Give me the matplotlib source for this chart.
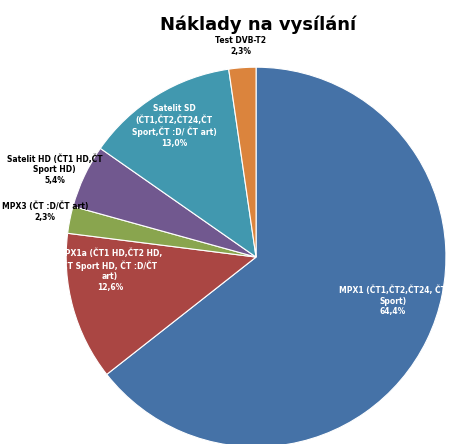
import matplotlib
matplotlib.use("Agg")
import matplotlib.pyplot as plt

labels = ["MPX1 (ČT1,ČT2,ČT24, ČT\nSport)", "MPX1a (ČT1 HD,ČT2 HD,\nČT Sport HD, ČT :D/ČT\nart)",
          "MPX3 (ČT :D/ČT art)", "Satelit HD (ČT1 HD,ČT\nSport HD)",
          "Satelit SD\n(ČT1,ČT2,ČT24,ČT\nSport,ČT :D/ ČT art)", "Test DVB-T2"]
values = [64.4, 12.6, 2.3, 5.4, 13.0, 2.3]
colors = ["#4572A7", "#AA4643", "#89A54E", "#71588F", "#4198AF", "#DB843D"]

label_pos = [(0.72, -0.23), (-0.77, -0.07), (-1.11, 0.24), (-1.06, 0.46), (-0.43, 0.69), (-0.08, 1.11)]
label_col = ["white", "white", "black", "black", "white", "black"]

fig = plt.figure(figsize=(4.5, 4.44), dpi=100)
ax = fig.add_axes([0.147, -0.007, 0.844, 0.856])
ax.pie(values, colors=colors, startangle=90, counterclock=False,
       wedgeprops=dict(edgecolor="white", linewidth=0.8))
ax.set_xlim(-1, 1); ax.set_ylim(-1, 1)
for lab, v, (x, y), c in zip(labels, values, label_pos, label_col):
    ax.text(x, y, f"{lab}\n{v:.1f}%".replace(".", ","), ha="center", va="center",
            fontsize=5.5, fontweight="bold", color=c, linespacing=1.25, clip_on=False)
fig.text(0.573, 0.944, "Náklady na vysílání", ha="center", va="center",
         fontsize=13, fontweight="bold")
fig.savefig("out.png", dpi=100)
